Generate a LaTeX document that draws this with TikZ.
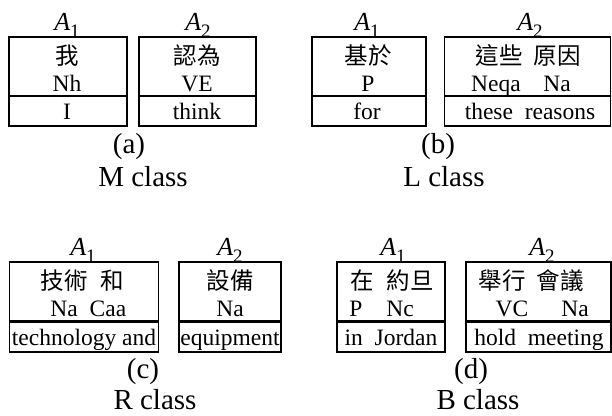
\documentclass[tikz,border=0pt]{standalone}
\usepackage{fontspec}
\setmainfont{Liberation Serif}
\newfontfamily\cjk{Noto Sans CJK TC}
\usepackage{tikz}

\newcommand{\argA}[1]{\textit{A}\raisebox{-0.28em}{\fontsize{19}{20}\selectfont #1}}

\tikzset{
  upbox/.style={draw, line width=1.4pt, minimum height=59pt, inner sep=0pt},
  lowbox/.style={draw, line width=1.4pt, minimum height=30pt, inner sep=0pt},
  word/.style={anchor=base, inner sep=0pt, font=\fontsize{23.5}{25}\selectfont},
  hanzi/.style={anchor=base, inner sep=0pt, font=\cjk\fontsize{23.5}{25}\selectfont},
  arg/.style={anchor=base, inner sep=0pt, font=\fontsize{26}{28}\selectfont},
  caption/.style={anchor=base, inner sep=0pt, font=\fontsize{29}{31}\selectfont}
}

\begin{document}
\begin{tikzpicture}[x=1pt,y=-1pt]
\useasboundingbox (0,0) rectangle (612,415);

% (a) M class
\draw (68,66.5)    node (a1up)  [upbox, minimum width=118pt] {};
\draw (68,111)     node (a1low) [lowbox, minimum width=118pt] {};
\draw (197.5,66.5) node (a2up)  [upbox, minimum width=117pt] {};
\draw (197.5,111)  node (a2low) [lowbox, minimum width=117pt] {};
\draw (67,30)   node (a1arg) [arg] {\argA{1}};
\draw (198,30)  node (a2arg) [arg] {\argA{2}};
\draw (67,64)   node (a1zh)  [hanzi] {我};
\draw (67,91)   node (a1pos) [word] {Nh};
\draw (67,119)  node (a1en)  [word] {I};
\draw (197,64)  node (a2zh)  [hanzi] {認為};
\draw (197,91)  node (a2pos) [word] {VE};
\draw (197,119) node (a2en)  [word] {think};
\draw (129,153) node (acap)  [caption] {(a)};
\draw (143,186) node (aname) [caption] {M class};

% (b) L class
\draw (369,66.5) node (b1up)  [upbox, minimum width=114pt] {};
\draw (369,111)  node (b1low) [lowbox, minimum width=114pt] {};
\draw (527.5,66.5) node (b2up)  [upbox, minimum width=166pt] {};
\draw (527.5,111)  node (b2low) [lowbox, minimum width=166pt] {};
\draw (367,30)  node (b1arg) [arg] {\argA{1}};
\draw (530,30)  node (b2arg) [arg] {\argA{2}};
\draw (368,64)  node (b1zh)  [hanzi] {基於};
\draw (368,91)  node (b1pos) [word] {P};
\draw (367,119) node (b1en)  [word] {for};
\draw (499,64)  node (b2zha) [hanzi] {這些};
\draw (557,64)  node (b2zhb) [hanzi] {原因};
\draw (496,91)  node (b2posa) [word] {Neqa};
\draw (557,91)  node (b2posb) [word] {Na};
\draw (530,119) node (b2en)  [word] {these\enspace reasons};
\draw (438,153) node (bcap)  [caption] {(b)};
\draw (444,186) node (bname) [caption] {L class};

% (c) R class
\draw (84,291.5)  node (c1up)  [upbox, minimum width=149pt] {};
\draw (84,337)    node (c1low) [lowbox, minimum width=149pt] {};
\draw (230,291.5) node (c2up)  [upbox, minimum width=102pt] {};
\draw (230,337)   node (c2low) [lowbox, minimum width=102pt] {};
\draw (83,255)  node (c1arg) [arg] {\argA{1}};
\draw (230,255) node (c2arg) [arg] {\argA{2}};
\draw (64,289)  node (c1zha) [hanzi] {技術};
\draw (112,289) node (c1zhb) [hanzi] {和};
\draw (64,316)  node (c1posa) [word] {Na};
\draw (108,316) node (c1posb) [word] {Caa};
\draw (84,345)  node (c1en)  [word] {technology and};
\draw (230,289) node (c2zh)  [hanzi] {設備};
\draw (230,316) node (c2pos) [word] {Na};
\draw (230,345) node (c2en)  [word] {equipment};
\draw (143,378) node (ccap)  [caption] {(c)};
\draw (155,409) node (cname) [caption] {R class};

% (d) B class
\draw (391,291.5) node (d1up)  [upbox, minimum width=108pt] {};
\draw (391,337)   node (d1low) [lowbox, minimum width=108pt] {};
\draw (538.5,291.5) node (d2up)  [upbox, minimum width=145pt] {};
\draw (538.5,337)   node (d2low) [lowbox, minimum width=145pt] {};
\draw (393,255) node (d1arg) [arg] {\argA{1}};
\draw (542,255) node (d2arg) [arg] {\argA{2}};
\draw (362,289) node (d1zha) [hanzi] {在};
\draw (410,289) node (d1zhb) [hanzi] {約旦};
\draw (356,316) node (d1posa) [word] {P};
\draw (400,316) node (d1posb) [word] {Nc};
\draw (391,345) node (d1en)  [word] {in\enspace Jordan};
\draw (502,289) node (d2zha) [hanzi] {舉行};
\draw (560,289) node (d2zhb) [hanzi] {會議};
\draw (512,316) node (d2posa) [word] {VC};
\draw (575,316) node (d2posb) [word] {Na};
\draw (539,345) node (d2en)  [word] {hold\enspace meeting};
\draw (471,378) node (dcap)  [caption] {(d)};
\draw (478,409) node (dname) [caption] {B class};
\end{tikzpicture}
\end{document}
